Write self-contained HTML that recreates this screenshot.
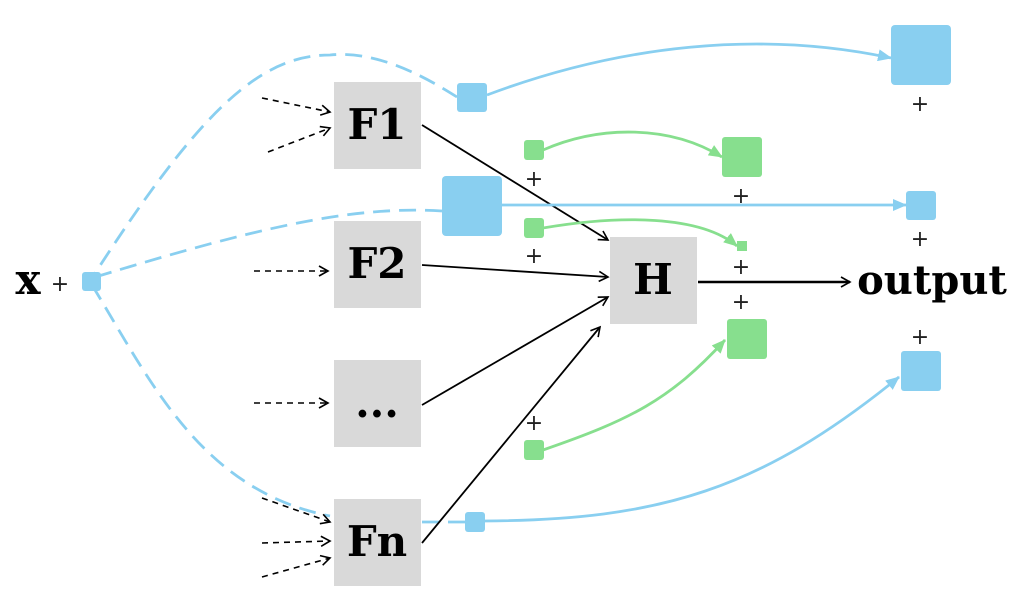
<!DOCTYPE html><html><head><style>body{margin:0;background:#fff}svg{display:block}text{font-family:"DejaVu Serif","Liberation Serif",serif;font-weight:bold}.p{font-family:"DejaVu Sans","Liberation Sans",sans-serif;font-weight:normal;font-size:22px;fill:#222}</style></head><body>
<svg width="1024" height="614" viewBox="0 0 1024 614" xmlns="http://www.w3.org/2000/svg">
<defs>
<marker id="ob" markerWidth="12" markerHeight="12" refX="10" refY="6" orient="auto" markerUnits="userSpaceOnUse"><path d="M1,1 L10,6 L1,11" fill="none" stroke="#000" stroke-width="1.6"/></marker>
<marker id="bl" markerWidth="14" markerHeight="12" refX="13" refY="6" orient="auto" markerUnits="userSpaceOnUse"><path d="M0,0 L14,6 L0,12z" fill="#89cff0"/></marker>
<marker id="gr" markerWidth="14" markerHeight="12" refX="13" refY="6" orient="auto" markerUnits="userSpaceOnUse"><path d="M0,0 L14,6 L0,12z" fill="#87df8e"/></marker>
<marker id="bo" markerWidth="12" markerHeight="12" refX="3" refY="6" orient="auto" markerUnits="userSpaceOnUse"><path d="M11,1 L2,6 L11,11" fill="none" stroke="#89cff0" stroke-width="2.5"/></marker>
</defs>
<g fill="none" stroke="#89cff0" stroke-width="2.8" stroke-dasharray="17,9">
<path d="M457,97 C430,80 380,50 330,55 C260,55 200,110 92,278" marker-end="url(#bo)"/>
<path d="M442,211 C350,205 250,230 92,278"/>
<path d="M92,285 C150,380 200,490 330,516"/>
<path d="M422,522 L465,522"/>
</g>
<g fill="none" stroke="#000" stroke-width="1.6" stroke-dasharray="6,5" marker-end="url(#ob)">
<path d="M262,98 L330,112"/><path d="M268,152 L330,128"/>
<path d="M254,271 L328,271"/><path d="M254,403 L328,403"/>
<path d="M262,498 L330,522"/><path d="M262,543 L330,541"/><path d="M262,577 L330,558"/>
</g>
<g fill="#d9d9d9"><rect x="334" y="82" width="87" height="87"/><rect x="334" y="221" width="87" height="87"/><rect x="334" y="360" width="87" height="87"/><rect x="334" y="499" width="87" height="87"/><rect x="610" y="237" width="87" height="87"/></g>
<g font-size="42" text-anchor="middle" fill="#000"><text x="377" y="139">F1</text><text x="377" y="278">F2</text><text x="377" y="417">...</text><text x="377" y="556">Fn</text><text x="653" y="294">H</text><text x="932" y="294" font-size="40">output</text><text x="28" y="294">x</text></g>
<g fill="none" stroke="#000" stroke-width="1.8" marker-end="url(#ob)">
<path d="M422,125 L608,240"/><path d="M422,265 L608,277"/><path d="M422,405 L608,297"/><path d="M422,543 L600,327"/>
<path d="M698,282 L850,282" stroke-width="2.5"/>
</g>
<g fill="none" stroke="#89cff0" stroke-width="2.8" marker-end="url(#bl)">
<path d="M487,95 C620,45 760,30 891,58"/>
<path d="M501,205 L906,205"/>
<path d="M484,521 C660,520 760,490 899,377"/>
</g>
<g fill="none" stroke="#87df8e" stroke-width="2.8" marker-end="url(#gr)">
<path d="M543,150 C600,125 670,125 722,157"/>
<path d="M543,228 C620,215 700,215 737,246"/>
<path d="M543,450 C630,420 670,400 725,340"/>
</g>
<g fill="#89cff0"><rect x="82" y="272" width="19" height="19" rx="3"/><rect x="457" y="83" width="30" height="29" rx="3"/><rect x="442" y="176" width="60" height="60" rx="4"/><rect x="891" y="25" width="60" height="60" rx="4"/><rect x="906" y="191" width="30" height="29" rx="3"/><rect x="901" y="351" width="40" height="40" rx="3"/><rect x="465" y="512" width="20" height="20" rx="3"/></g>
<g fill="#87df8e"><rect x="524" y="140" width="20" height="20" rx="3"/><rect x="722" y="137" width="40" height="40" rx="3"/><rect x="524" y="218" width="20" height="20" rx="3"/><rect x="737" y="241" width="10" height="10"/><rect x="727" y="319" width="40" height="40" rx="3"/><rect x="524" y="440" width="20" height="20" rx="3"/></g>
<g class="p" text-anchor="middle"><text x="60" y="291" class="p">+</text><text x="920" y="111" class="p">+</text><text x="920" y="246" class="p">+</text><text x="920" y="344" class="p">+</text><text x="534" y="186" class="p">+</text><text x="741" y="203" class="p">+</text><text x="534" y="263" class="p">+</text><text x="741" y="274" class="p">+</text><text x="741" y="309" class="p">+</text><text x="534" y="430" class="p">+</text></g>
</svg></body></html>
